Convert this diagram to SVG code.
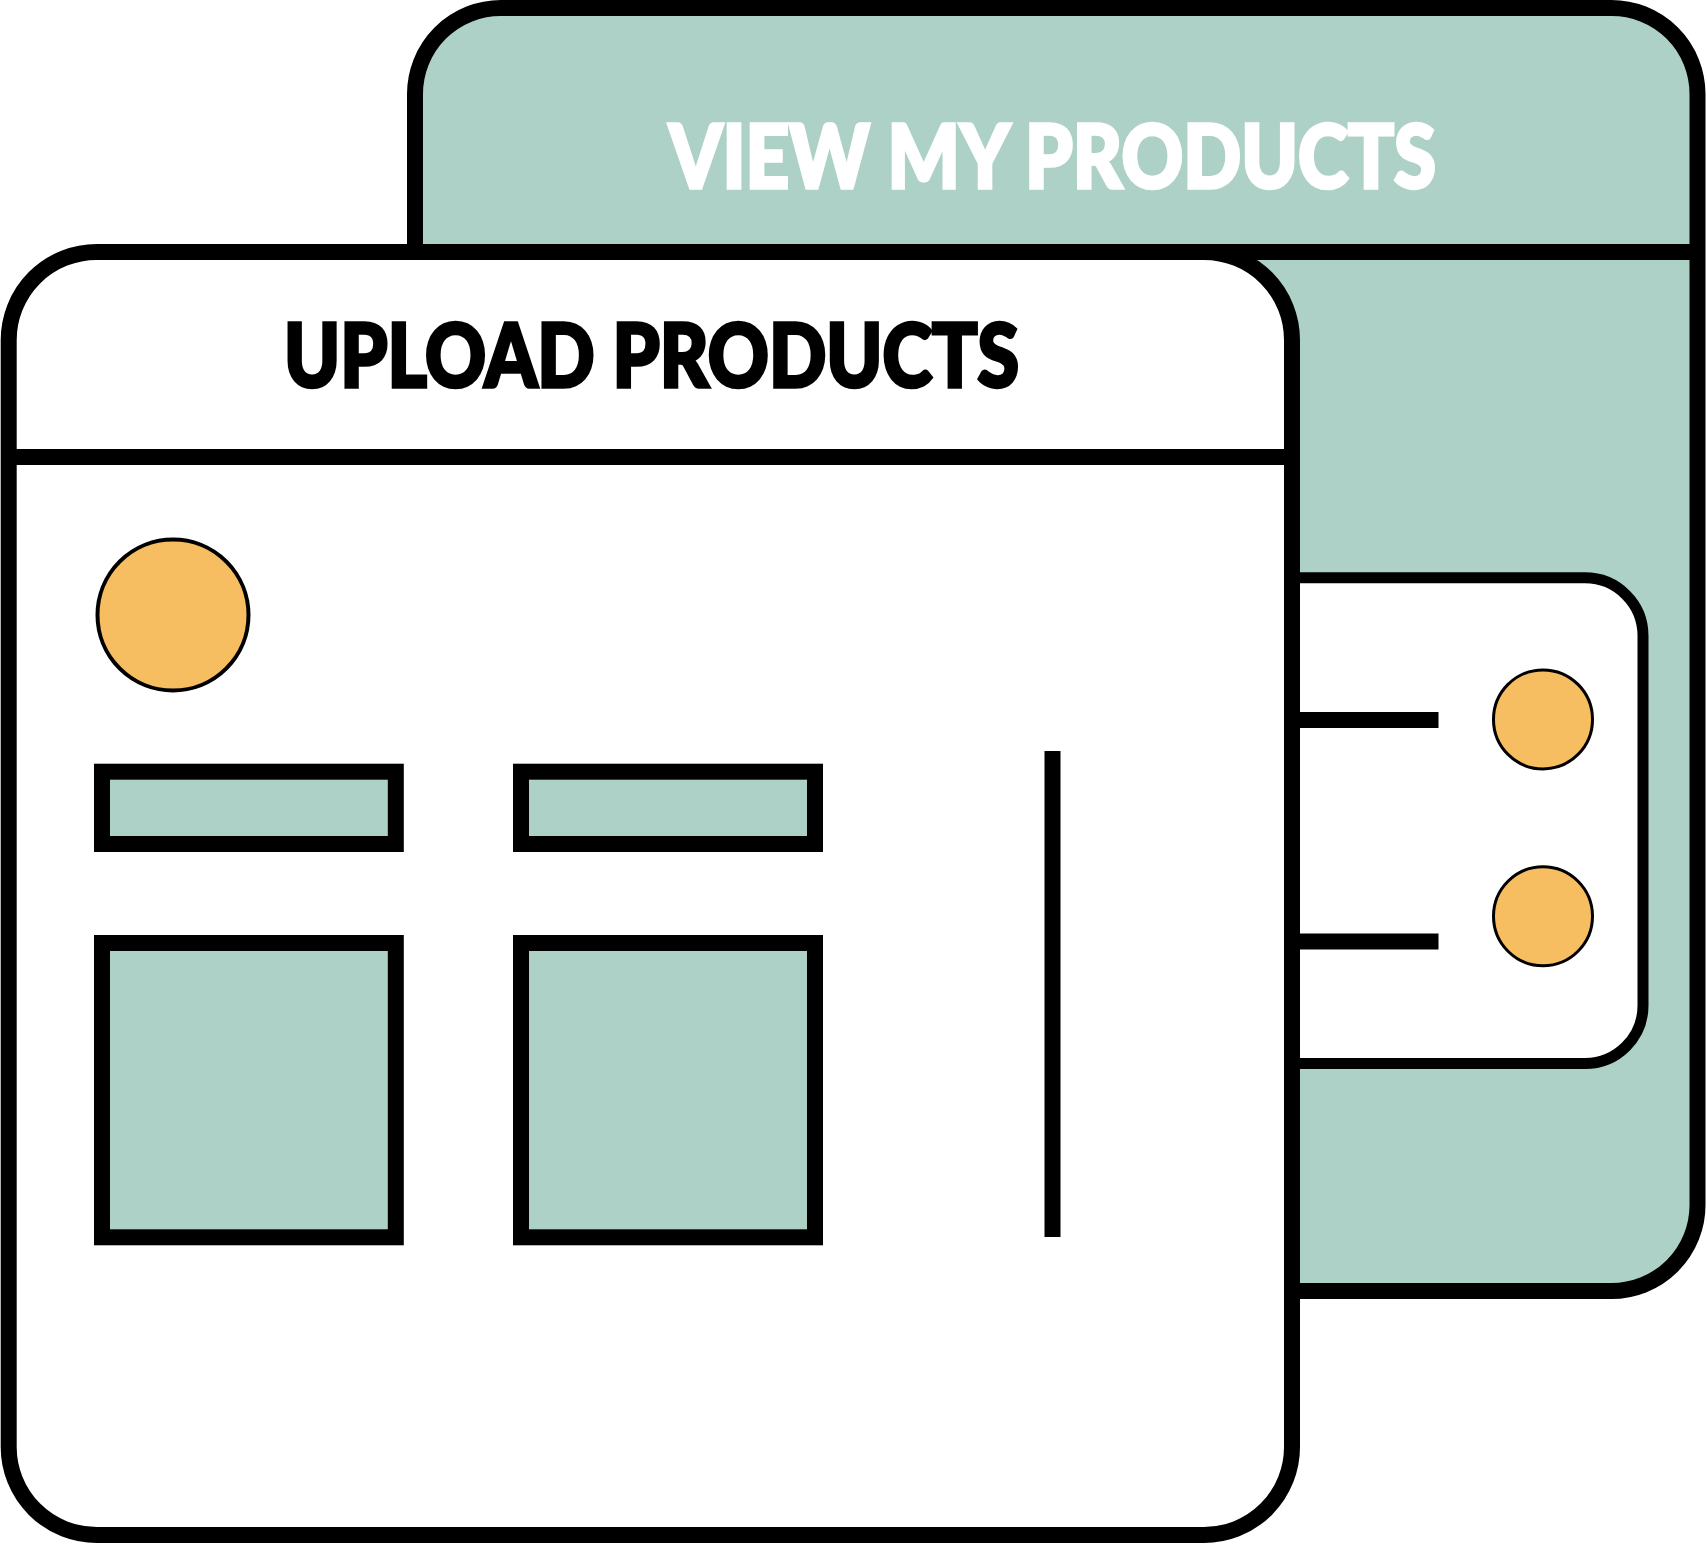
<svg xmlns="http://www.w3.org/2000/svg" width="1707" height="1544" viewBox="0 0 1707 1544">
  <style>
    .frame { stroke: #000; stroke-width: 16; }
    .teal { fill: #AED1C7; }
    .paper { fill: #FFFFFF; }
    .rule { stroke: #000; stroke-width: 16; fill: none; stroke-linecap: butt; }
    .dot { fill: #F6BD61; stroke: #000; }
    .title { font-family: "Lato", "Liberation Sans", "DejaVu Sans", sans-serif; font-weight: 900; font-size: 87px; stroke-width: 3.5; stroke-linejoin: miter; paint-order: stroke fill; }
  </style>

  <rect width="1707" height="1544" fill="#FFFFFF"/>

  <!-- Back window: "View my products" -->
  <g id="view-window">
    <rect class="frame teal" x="415" y="8" width="1282.5" height="1283" rx="86" ry="86" stroke-width="15"/>
    <text class="title" x="669" y="187.5" fill="#FFFFFF" stroke="#FFFFFF" textLength="767" lengthAdjust="spacingAndGlyphs">VIEW MY PRODUCTS</text>
  </g>

  <!-- Back window header rule, running under the front window's top edge -->
  <g id="connectors">
    <line class="rule" x1="415" y1="252" x2="1690" y2="252"/>
  </g>

  <!-- Side panel peeking out from behind the front window -->
  <g id="side-panel">
    <path class="paper" d="M1292 577.8 H1585 A58 58 0 0 1 1643 635.8 V1005.5 A58 58 0 0 1 1585 1063.5 H1292 Z" stroke="#000" stroke-width="11"/>
    <line class="rule" x1="1292" y1="720" x2="1438.5" y2="720" stroke-width="15.5"/>
    <line class="rule" x1="1292" y1="941.5" x2="1438.5" y2="941.5" stroke-width="15.5"/>
    <circle class="dot" cx="1543" cy="719.4" r="49.5" stroke-width="3"/>
    <circle class="dot" cx="1543" cy="916.2" r="49.5" stroke-width="3"/>
  </g>

  <!-- Front window: "Upload products" -->
  <g id="upload-window">
    <rect class="frame paper" x="8.7" y="252" width="1283.3" height="1283" rx="88" ry="88"/>
    <line class="rule" x1="8.7" y1="457" x2="1292" y2="457"/>
    <text class="title" x="284" y="386.5" fill="#000000" stroke="#000000" textLength="735" lengthAdjust="spacingAndGlyphs">UPLOAD PRODUCTS</text>
  </g>

  <!-- Form contents -->
  <g id="avatar">
    <circle class="dot" cx="173" cy="615" r="75.5" stroke-width="4"/>
  </g>
  <g id="field-1">
    <rect class="frame teal" x="102" y="771.7" width="293.8" height="72.3"/>
  </g>
  <g id="field-2">
    <rect class="frame teal" x="521" y="771.7" width="294" height="72.3"/>
  </g>
  <g id="image-1">
    <rect class="frame teal" x="102" y="943" width="293.8" height="294.3"/>
  </g>
  <g id="image-2">
    <rect class="frame teal" x="521" y="943" width="294" height="294.3"/>
  </g>
  <g id="divider">
    <line class="rule" x1="1052.5" y1="751" x2="1052.5" y2="1237"/>
  </g>
</svg>
